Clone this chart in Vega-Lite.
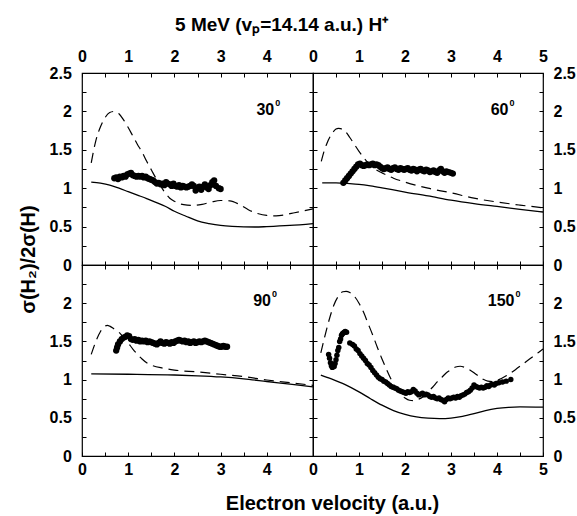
{
  "$schema": "https://vega.github.io/schema/vega-lite/v6.json",
  "background": "white",
  "padding": {"left": 17, "top": 15, "right": 2, "bottom": 2},
  "autosize": {"type": "pad"},
  "title": {"text": "5 MeV (vₚ=14.14 a.u.) H⁺", "font": "Liberation Sans", "fontSize": 19, "fontWeight": "bold", "color": "black", "anchor": "middle", "dx": -15, "offset": 13},
  "data": {"values": [
    {"p":"30","s":"solid","x":0.2,"y":1.08},{"p":"30","s":"solid","x":0.4,"y":1.065},{"p":"30","s":"solid","x":0.6,"y":1.04},{"p":"30","s":"solid","x":0.8,"y":1.0},{"p":"30","s":"solid","x":1.0,"y":0.955},{"p":"30","s":"solid","x":1.2,"y":0.91},{"p":"30","s":"solid","x":1.4,"y":0.865},{"p":"30","s":"solid","x":1.6,"y":0.815},{"p":"30","s":"solid","x":1.8,"y":0.765},{"p":"30","s":"solid","x":2.0,"y":0.7},{"p":"30","s":"solid","x":2.25,"y":0.635},{"p":"30","s":"solid","x":2.5,"y":0.575},{"p":"30","s":"solid","x":2.75,"y":0.54},{"p":"30","s":"solid","x":3.0,"y":0.515},{"p":"30","s":"solid","x":3.25,"y":0.502},{"p":"30","s":"solid","x":3.5,"y":0.496},{"p":"30","s":"solid","x":3.75,"y":0.495},{"p":"30","s":"solid","x":4.0,"y":0.5},{"p":"30","s":"solid","x":4.5,"y":0.515},{"p":"30","s":"solid","x":5.0,"y":0.54},
    {"p":"30","s":"dash","x":0.2,"y":1.33},{"p":"30","s":"dash","x":0.3,"y":1.62},{"p":"30","s":"dash","x":0.4,"y":1.8},{"p":"30","s":"dash","x":0.5,"y":1.92},{"p":"30","s":"dash","x":0.6,"y":1.985},{"p":"30","s":"dash","x":0.7,"y":2.0},{"p":"30","s":"dash","x":0.8,"y":1.97},{"p":"30","s":"dash","x":0.9,"y":1.89},{"p":"30","s":"dash","x":1.0,"y":1.79},{"p":"30","s":"dash","x":1.1,"y":1.68},{"p":"30","s":"dash","x":1.2,"y":1.57},{"p":"30","s":"dash","x":1.3,"y":1.47},{"p":"30","s":"dash","x":1.4,"y":1.35},{"p":"30","s":"dash","x":1.5,"y":1.24},{"p":"30","s":"dash","x":1.6,"y":1.13},{"p":"30","s":"dash","x":1.7,"y":1.03},{"p":"30","s":"dash","x":1.8,"y":0.94},{"p":"30","s":"dash","x":1.9,"y":0.87},{"p":"30","s":"dash","x":2.0,"y":0.83},{"p":"30","s":"dash","x":2.2,"y":0.785},{"p":"30","s":"dash","x":2.4,"y":0.775},{"p":"30","s":"dash","x":2.6,"y":0.79},{"p":"30","s":"dash","x":2.8,"y":0.82},{"p":"30","s":"dash","x":3.0,"y":0.84},{"p":"30","s":"dash","x":3.2,"y":0.835},{"p":"30","s":"dash","x":3.4,"y":0.79},{"p":"30","s":"dash","x":3.6,"y":0.72},{"p":"30","s":"dash","x":3.8,"y":0.67},{"p":"30","s":"dash","x":4.0,"y":0.645},{"p":"30","s":"dash","x":4.2,"y":0.64},{"p":"30","s":"dash","x":4.4,"y":0.655},{"p":"30","s":"dash","x":4.6,"y":0.68},{"p":"30","s":"dash","x":4.8,"y":0.705},{"p":"30","s":"dash","x":5.0,"y":0.73},
    {"p":"30","s":"pts","x":0.7,"y":1.13},{"p":"30","s":"pts","x":0.74,"y":1.14},{"p":"30","s":"pts","x":0.78,"y":1.12},{"p":"30","s":"pts","x":0.82,"y":1.15},{"p":"30","s":"pts","x":0.86,"y":1.14},{"p":"30","s":"pts","x":0.9,"y":1.16},{"p":"30","s":"pts","x":0.94,"y":1.15},{"p":"30","s":"pts","x":0.98,"y":1.18},{"p":"30","s":"pts","x":1.02,"y":1.19},{"p":"30","s":"pts","x":1.06,"y":1.2},{"p":"30","s":"pts","x":1.1,"y":1.17},{"p":"30","s":"pts","x":1.14,"y":1.16},{"p":"30","s":"pts","x":1.18,"y":1.15},{"p":"30","s":"pts","x":1.22,"y":1.16},{"p":"30","s":"pts","x":1.26,"y":1.15},{"p":"30","s":"pts","x":1.3,"y":1.16},{"p":"30","s":"pts","x":1.34,"y":1.14},{"p":"30","s":"pts","x":1.38,"y":1.15},{"p":"30","s":"pts","x":1.42,"y":1.13},{"p":"30","s":"pts","x":1.46,"y":1.12},{"p":"30","s":"pts","x":1.5,"y":1.11},{"p":"30","s":"pts","x":1.54,"y":1.1},{"p":"30","s":"pts","x":1.58,"y":1.08},{"p":"30","s":"pts","x":1.62,"y":1.06},{"p":"30","s":"pts","x":1.66,"y":1.07},{"p":"30","s":"pts","x":1.7,"y":1.05},{"p":"30","s":"pts","x":1.74,"y":1.06},{"p":"30","s":"pts","x":1.78,"y":1.04},{"p":"30","s":"pts","x":1.82,"y":1.08},{"p":"30","s":"pts","x":1.86,"y":1.06},{"p":"30","s":"pts","x":1.9,"y":1.05},{"p":"30","s":"pts","x":1.94,"y":1.03},{"p":"30","s":"pts","x":1.98,"y":1.06},{"p":"30","s":"pts","x":2.02,"y":1.03},{"p":"30","s":"pts","x":2.06,"y":1.02},{"p":"30","s":"pts","x":2.1,"y":1.04},{"p":"30","s":"pts","x":2.14,"y":1.01},{"p":"30","s":"pts","x":2.18,"y":1.03},{"p":"30","s":"pts","x":2.22,"y":1.02},{"p":"30","s":"pts","x":2.26,"y":1.01},{"p":"30","s":"pts","x":2.3,"y":1.02},{"p":"30","s":"pts","x":2.34,"y":1.03},{"p":"30","s":"pts","x":2.38,"y":1.05},{"p":"30","s":"pts","x":2.42,"y":1.03},{"p":"30","s":"pts","x":2.46,"y":0.97},{"p":"30","s":"pts","x":2.5,"y":1.0},{"p":"30","s":"pts","x":2.54,"y":1.02},{"p":"30","s":"pts","x":2.58,"y":0.98},{"p":"30","s":"pts","x":2.62,"y":1.02},{"p":"30","s":"pts","x":2.66,"y":1.05},{"p":"30","s":"pts","x":2.7,"y":1.01},{"p":"30","s":"pts","x":2.74,"y":0.99},{"p":"30","s":"pts","x":2.78,"y":1.04},{"p":"30","s":"pts","x":2.82,"y":1.08},{"p":"30","s":"pts","x":2.86,"y":1.1},{"p":"30","s":"pts","x":2.9,"y":1.03},{"p":"30","s":"pts","x":2.96,"y":1.0},{"p":"30","s":"pts","x":3.0,"y":0.99},
    {"p":"60","s":"solid","x":0.2,"y":1.07},{"p":"60","s":"solid","x":0.5,"y":1.07},{"p":"60","s":"solid","x":0.8,"y":1.06},{"p":"60","s":"solid","x":1.0,"y":1.05},{"p":"60","s":"solid","x":1.25,"y":1.03},{"p":"60","s":"solid","x":1.5,"y":1.005},{"p":"60","s":"solid","x":1.75,"y":0.978},{"p":"60","s":"solid","x":2.0,"y":0.95},{"p":"60","s":"solid","x":2.5,"y":0.9},{"p":"60","s":"solid","x":3.0,"y":0.845},{"p":"60","s":"solid","x":3.5,"y":0.8},{"p":"60","s":"solid","x":4.0,"y":0.762},{"p":"60","s":"solid","x":4.5,"y":0.725},{"p":"60","s":"solid","x":5.0,"y":0.69},
    {"p":"60","s":"dash","x":0.18,"y":1.35},{"p":"60","s":"dash","x":0.25,"y":1.5},{"p":"60","s":"dash","x":0.3,"y":1.58},{"p":"60","s":"dash","x":0.4,"y":1.7},{"p":"60","s":"dash","x":0.5,"y":1.77},{"p":"60","s":"dash","x":0.55,"y":1.78},{"p":"60","s":"dash","x":0.6,"y":1.775},{"p":"60","s":"dash","x":0.7,"y":1.74},{"p":"60","s":"dash","x":0.8,"y":1.66},{"p":"60","s":"dash","x":0.9,"y":1.57},{"p":"60","s":"dash","x":1.0,"y":1.48},{"p":"60","s":"dash","x":1.1,"y":1.4},{"p":"60","s":"dash","x":1.2,"y":1.33},{"p":"60","s":"dash","x":1.3,"y":1.27},{"p":"60","s":"dash","x":1.4,"y":1.23},{"p":"60","s":"dash","x":1.5,"y":1.2},{"p":"60","s":"dash","x":1.75,"y":1.13},{"p":"60","s":"dash","x":2.0,"y":1.08},{"p":"60","s":"dash","x":2.5,"y":1.0},{"p":"60","s":"dash","x":3.0,"y":0.94},{"p":"60","s":"dash","x":3.5,"y":0.87},{"p":"60","s":"dash","x":4.0,"y":0.82},{"p":"60","s":"dash","x":4.5,"y":0.78},{"p":"60","s":"dash","x":5.0,"y":0.745},
    {"p":"60","s":"pts","x":0.66,"y":1.07},{"p":"60","s":"pts","x":0.7,"y":1.1},{"p":"60","s":"pts","x":0.74,"y":1.13},{"p":"60","s":"pts","x":0.78,"y":1.16},{"p":"60","s":"pts","x":0.82,"y":1.19},{"p":"60","s":"pts","x":0.86,"y":1.22},{"p":"60","s":"pts","x":0.9,"y":1.25},{"p":"60","s":"pts","x":0.94,"y":1.28},{"p":"60","s":"pts","x":0.98,"y":1.31},{"p":"60","s":"pts","x":1.02,"y":1.32},{"p":"60","s":"pts","x":1.06,"y":1.3},{"p":"60","s":"pts","x":1.1,"y":1.29},{"p":"60","s":"pts","x":1.14,"y":1.3},{"p":"60","s":"pts","x":1.18,"y":1.31},{"p":"60","s":"pts","x":1.22,"y":1.3},{"p":"60","s":"pts","x":1.26,"y":1.31},{"p":"60","s":"pts","x":1.3,"y":1.32},{"p":"60","s":"pts","x":1.34,"y":1.3},{"p":"60","s":"pts","x":1.38,"y":1.31},{"p":"60","s":"pts","x":1.42,"y":1.3},{"p":"60","s":"pts","x":1.46,"y":1.28},{"p":"60","s":"pts","x":1.5,"y":1.26},{"p":"60","s":"pts","x":1.54,"y":1.25},{"p":"60","s":"pts","x":1.58,"y":1.26},{"p":"60","s":"pts","x":1.62,"y":1.27},{"p":"60","s":"pts","x":1.66,"y":1.25},{"p":"60","s":"pts","x":1.7,"y":1.24},{"p":"60","s":"pts","x":1.74,"y":1.26},{"p":"60","s":"pts","x":1.78,"y":1.27},{"p":"60","s":"pts","x":1.82,"y":1.25},{"p":"60","s":"pts","x":1.86,"y":1.24},{"p":"60","s":"pts","x":1.9,"y":1.26},{"p":"60","s":"pts","x":1.94,"y":1.25},{"p":"60","s":"pts","x":1.98,"y":1.24},{"p":"60","s":"pts","x":2.02,"y":1.25},{"p":"60","s":"pts","x":2.06,"y":1.26},{"p":"60","s":"pts","x":2.1,"y":1.24},{"p":"60","s":"pts","x":2.14,"y":1.23},{"p":"60","s":"pts","x":2.18,"y":1.25},{"p":"60","s":"pts","x":2.22,"y":1.24},{"p":"60","s":"pts","x":2.26,"y":1.22},{"p":"60","s":"pts","x":2.3,"y":1.24},{"p":"60","s":"pts","x":2.34,"y":1.25},{"p":"60","s":"pts","x":2.38,"y":1.23},{"p":"60","s":"pts","x":2.42,"y":1.22},{"p":"60","s":"pts","x":2.46,"y":1.24},{"p":"60","s":"pts","x":2.5,"y":1.23},{"p":"60","s":"pts","x":2.54,"y":1.21},{"p":"60","s":"pts","x":2.58,"y":1.22},{"p":"60","s":"pts","x":2.62,"y":1.23},{"p":"60","s":"pts","x":2.66,"y":1.21},{"p":"60","s":"pts","x":2.7,"y":1.2},{"p":"60","s":"pts","x":2.74,"y":1.23},{"p":"60","s":"pts","x":2.78,"y":1.25},{"p":"60","s":"pts","x":2.82,"y":1.22},{"p":"60","s":"pts","x":2.86,"y":1.2},{"p":"60","s":"pts","x":2.9,"y":1.22},{"p":"60","s":"pts","x":2.95,"y":1.21},{"p":"60","s":"pts","x":3.0,"y":1.2},{"p":"60","s":"pts","x":3.04,"y":1.19},
    {"p":"90","s":"solid","x":0.2,"y":1.075},{"p":"90","s":"solid","x":1.0,"y":1.07},{"p":"90","s":"solid","x":2.0,"y":1.06},{"p":"90","s":"solid","x":2.5,"y":1.05},{"p":"90","s":"solid","x":3.0,"y":1.035},{"p":"90","s":"solid","x":3.5,"y":1.01},{"p":"90","s":"solid","x":4.0,"y":0.975},{"p":"90","s":"solid","x":4.5,"y":0.94},{"p":"90","s":"solid","x":5.0,"y":0.905},
    {"p":"90","s":"dash","x":0.2,"y":1.33},{"p":"90","s":"dash","x":0.3,"y":1.5},{"p":"90","s":"dash","x":0.4,"y":1.63},{"p":"90","s":"dash","x":0.5,"y":1.7},{"p":"90","s":"dash","x":0.55,"y":1.71},{"p":"90","s":"dash","x":0.6,"y":1.7},{"p":"90","s":"dash","x":0.7,"y":1.66},{"p":"90","s":"dash","x":0.8,"y":1.62},{"p":"90","s":"dash","x":0.9,"y":1.55},{"p":"90","s":"dash","x":1.0,"y":1.48},{"p":"90","s":"dash","x":1.1,"y":1.4},{"p":"90","s":"dash","x":1.2,"y":1.33},{"p":"90","s":"dash","x":1.3,"y":1.27},{"p":"90","s":"dash","x":1.4,"y":1.22},{"p":"90","s":"dash","x":1.5,"y":1.19},{"p":"90","s":"dash","x":1.75,"y":1.15},{"p":"90","s":"dash","x":2.0,"y":1.125},{"p":"90","s":"dash","x":2.5,"y":1.1},{"p":"90","s":"dash","x":3.0,"y":1.07},{"p":"90","s":"dash","x":3.5,"y":1.04},{"p":"90","s":"dash","x":4.0,"y":0.995},{"p":"90","s":"dash","x":4.5,"y":0.96},{"p":"90","s":"dash","x":5.0,"y":0.925},
    {"p":"90","s":"pts","x":0.74,"y":1.38},{"p":"90","s":"pts","x":0.76,"y":1.42},{"p":"90","s":"pts","x":0.78,"y":1.46},{"p":"90","s":"pts","x":0.82,"y":1.5},{"p":"90","s":"pts","x":0.86,"y":1.53},{"p":"90","s":"pts","x":0.9,"y":1.55},{"p":"90","s":"pts","x":0.94,"y":1.56},{"p":"90","s":"pts","x":0.98,"y":1.58},{"p":"90","s":"pts","x":1.02,"y":1.57},{"p":"90","s":"pts","x":1.06,"y":1.53},{"p":"90","s":"pts","x":1.1,"y":1.52},{"p":"90","s":"pts","x":1.14,"y":1.53},{"p":"90","s":"pts","x":1.18,"y":1.51},{"p":"90","s":"pts","x":1.22,"y":1.52},{"p":"90","s":"pts","x":1.26,"y":1.5},{"p":"90","s":"pts","x":1.3,"y":1.51},{"p":"90","s":"pts","x":1.34,"y":1.5},{"p":"90","s":"pts","x":1.38,"y":1.51},{"p":"90","s":"pts","x":1.42,"y":1.49},{"p":"90","s":"pts","x":1.46,"y":1.5},{"p":"90","s":"pts","x":1.5,"y":1.49},{"p":"90","s":"pts","x":1.54,"y":1.48},{"p":"90","s":"pts","x":1.58,"y":1.47},{"p":"90","s":"pts","x":1.62,"y":1.46},{"p":"90","s":"pts","x":1.66,"y":1.48},{"p":"90","s":"pts","x":1.7,"y":1.5},{"p":"90","s":"pts","x":1.74,"y":1.48},{"p":"90","s":"pts","x":1.78,"y":1.47},{"p":"90","s":"pts","x":1.82,"y":1.49},{"p":"90","s":"pts","x":1.86,"y":1.48},{"p":"90","s":"pts","x":1.9,"y":1.47},{"p":"90","s":"pts","x":1.94,"y":1.49},{"p":"90","s":"pts","x":1.98,"y":1.48},{"p":"90","s":"pts","x":2.02,"y":1.5},{"p":"90","s":"pts","x":2.06,"y":1.51},{"p":"90","s":"pts","x":2.1,"y":1.52},{"p":"90","s":"pts","x":2.14,"y":1.51},{"p":"90","s":"pts","x":2.18,"y":1.5},{"p":"90","s":"pts","x":2.22,"y":1.51},{"p":"90","s":"pts","x":2.26,"y":1.49},{"p":"90","s":"pts","x":2.3,"y":1.5},{"p":"90","s":"pts","x":2.34,"y":1.48},{"p":"90","s":"pts","x":2.38,"y":1.49},{"p":"90","s":"pts","x":2.42,"y":1.5},{"p":"90","s":"pts","x":2.46,"y":1.48},{"p":"90","s":"pts","x":2.5,"y":1.49},{"p":"90","s":"pts","x":2.54,"y":1.5},{"p":"90","s":"pts","x":2.58,"y":1.49},{"p":"90","s":"pts","x":2.62,"y":1.5},{"p":"90","s":"pts","x":2.66,"y":1.51},{"p":"90","s":"pts","x":2.7,"y":1.5},{"p":"90","s":"pts","x":2.74,"y":1.49},{"p":"90","s":"pts","x":2.78,"y":1.48},{"p":"90","s":"pts","x":2.82,"y":1.47},{"p":"90","s":"pts","x":2.86,"y":1.46},{"p":"90","s":"pts","x":2.9,"y":1.45},{"p":"90","s":"pts","x":2.94,"y":1.44},{"p":"90","s":"pts","x":2.98,"y":1.43},{"p":"90","s":"pts","x":3.02,"y":1.43},{"p":"90","s":"pts","x":3.06,"y":1.44},{"p":"90","s":"pts","x":3.1,"y":1.43},{"p":"90","s":"pts","x":3.14,"y":1.43},
    {"p":"150","s":"solid","x":0.17,"y":1.06},{"p":"150","s":"solid","x":0.4,"y":1.01},{"p":"150","s":"solid","x":0.7,"y":0.935},{"p":"150","s":"solid","x":1.0,"y":0.84},{"p":"150","s":"solid","x":1.25,"y":0.75},{"p":"150","s":"solid","x":1.5,"y":0.665},{"p":"150","s":"solid","x":1.75,"y":0.595},{"p":"150","s":"solid","x":2.0,"y":0.545},{"p":"150","s":"solid","x":2.25,"y":0.512},{"p":"150","s":"solid","x":2.5,"y":0.496},{"p":"150","s":"solid","x":2.75,"y":0.49},{"p":"150","s":"solid","x":3.0,"y":0.497},{"p":"150","s":"solid","x":3.25,"y":0.52},{"p":"150","s":"solid","x":3.5,"y":0.555},{"p":"150","s":"solid","x":3.75,"y":0.595},{"p":"150","s":"solid","x":4.0,"y":0.622},{"p":"150","s":"solid","x":4.25,"y":0.637},{"p":"150","s":"solid","x":4.5,"y":0.643},{"p":"150","s":"solid","x":5.0,"y":0.64},
    {"p":"150","s":"dash","x":0.17,"y":1.35},{"p":"150","s":"dash","x":0.25,"y":1.55},{"p":"150","s":"dash","x":0.35,"y":1.78},{"p":"150","s":"dash","x":0.45,"y":1.97},{"p":"150","s":"dash","x":0.55,"y":2.09},{"p":"150","s":"dash","x":0.65,"y":2.15},{"p":"150","s":"dash","x":0.72,"y":2.155},{"p":"150","s":"dash","x":0.8,"y":2.14},{"p":"150","s":"dash","x":0.9,"y":2.09},{"p":"150","s":"dash","x":1.0,"y":2.0},{"p":"150","s":"dash","x":1.1,"y":1.88},{"p":"150","s":"dash","x":1.2,"y":1.73},{"p":"150","s":"dash","x":1.3,"y":1.58},{"p":"150","s":"dash","x":1.4,"y":1.42},{"p":"150","s":"dash","x":1.5,"y":1.27},{"p":"150","s":"dash","x":1.6,"y":1.13},{"p":"150","s":"dash","x":1.7,"y":1.0},{"p":"150","s":"dash","x":1.8,"y":0.89},{"p":"150","s":"dash","x":1.9,"y":0.81},{"p":"150","s":"dash","x":2.0,"y":0.76},{"p":"150","s":"dash","x":2.1,"y":0.73},{"p":"150","s":"dash","x":2.2,"y":0.725},{"p":"150","s":"dash","x":2.3,"y":0.745},{"p":"150","s":"dash","x":2.4,"y":0.78},{"p":"150","s":"dash","x":2.5,"y":0.84},{"p":"150","s":"dash","x":2.6,"y":0.9},{"p":"150","s":"dash","x":2.7,"y":0.97},{"p":"150","s":"dash","x":2.8,"y":1.03},{"p":"150","s":"dash","x":2.9,"y":1.09},{"p":"150","s":"dash","x":3.0,"y":1.13},{"p":"150","s":"dash","x":3.1,"y":1.165},{"p":"150","s":"dash","x":3.2,"y":1.175},{"p":"150","s":"dash","x":3.3,"y":1.16},{"p":"150","s":"dash","x":3.4,"y":1.13},{"p":"150","s":"dash","x":3.5,"y":1.09},{"p":"150","s":"dash","x":3.6,"y":1.045},{"p":"150","s":"dash","x":3.7,"y":1.005},{"p":"150","s":"dash","x":3.8,"y":0.98},{"p":"150","s":"dash","x":3.9,"y":0.975},{"p":"150","s":"dash","x":4.0,"y":0.99},{"p":"150","s":"dash","x":4.2,"y":1.05},{"p":"150","s":"dash","x":4.4,"y":1.13},{"p":"150","s":"dash","x":4.6,"y":1.22},{"p":"150","s":"dash","x":4.8,"y":1.31},{"p":"150","s":"dash","x":5.0,"y":1.4},
    {"p":"150","s":"pts","x":0.34,"y":1.33},{"p":"150","s":"pts","x":0.36,"y":1.28},{"p":"150","s":"pts","x":0.38,"y":1.22},{"p":"150","s":"pts","x":0.4,"y":1.18},{"p":"150","s":"pts","x":0.42,"y":1.16},{"p":"150","s":"pts","x":0.44,"y":1.19},{"p":"150","s":"pts","x":0.46,"y":1.17},{"p":"150","s":"pts","x":0.48,"y":1.21},{"p":"150","s":"pts","x":0.5,"y":1.26},{"p":"150","s":"pts","x":0.52,"y":1.32},{"p":"150","s":"pts","x":0.54,"y":1.38},{"p":"150","s":"pts","x":0.56,"y":1.42},{"p":"150","s":"pts","x":0.58,"y":1.5},{"p":"150","s":"pts","x":0.6,"y":1.53},{"p":"150","s":"pts","x":0.62,"y":1.58},{"p":"150","s":"pts","x":0.64,"y":1.6},{"p":"150","s":"pts","x":0.66,"y":1.61},{"p":"150","s":"pts","x":0.68,"y":1.62},{"p":"150","s":"pts","x":0.7,"y":1.63},{"p":"150","s":"pts","x":0.73,"y":1.62},{"p":"150","s":"pts","x":0.8,"y":1.48},{"p":"150","s":"pts","x":0.86,"y":1.46},{"p":"150","s":"pts","x":0.9,"y":1.44},{"p":"150","s":"pts","x":0.94,"y":1.4},{"p":"150","s":"pts","x":0.98,"y":1.38},{"p":"150","s":"pts","x":1.02,"y":1.34},{"p":"150","s":"pts","x":1.06,"y":1.31},{"p":"150","s":"pts","x":1.1,"y":1.28},{"p":"150","s":"pts","x":1.14,"y":1.25},{"p":"150","s":"pts","x":1.18,"y":1.21},{"p":"150","s":"pts","x":1.22,"y":1.19},{"p":"150","s":"pts","x":1.26,"y":1.16},{"p":"150","s":"pts","x":1.3,"y":1.12},{"p":"150","s":"pts","x":1.34,"y":1.09},{"p":"150","s":"pts","x":1.38,"y":1.06},{"p":"150","s":"pts","x":1.42,"y":1.03},{"p":"150","s":"pts","x":1.46,"y":1.01},{"p":"150","s":"pts","x":1.5,"y":1.0},{"p":"150","s":"pts","x":1.54,"y":0.98},{"p":"150","s":"pts","x":1.58,"y":0.97},{"p":"150","s":"pts","x":1.62,"y":0.95},{"p":"150","s":"pts","x":1.66,"y":0.93},{"p":"150","s":"pts","x":1.7,"y":0.91},{"p":"150","s":"pts","x":1.74,"y":0.9},{"p":"150","s":"pts","x":1.78,"y":0.89},{"p":"150","s":"pts","x":1.82,"y":0.88},{"p":"150","s":"pts","x":1.86,"y":0.86},{"p":"150","s":"pts","x":1.9,"y":0.85},{"p":"150","s":"pts","x":1.94,"y":0.84},{"p":"150","s":"pts","x":1.98,"y":0.83},{"p":"150","s":"pts","x":2.02,"y":0.82},{"p":"150","s":"pts","x":2.06,"y":0.84},{"p":"150","s":"pts","x":2.1,"y":0.83},{"p":"150","s":"pts","x":2.14,"y":0.84},{"p":"150","s":"pts","x":2.18,"y":0.87},{"p":"150","s":"pts","x":2.22,"y":0.85},{"p":"150","s":"pts","x":2.26,"y":0.82},{"p":"150","s":"pts","x":2.3,"y":0.8},{"p":"150","s":"pts","x":2.34,"y":0.81},{"p":"150","s":"pts","x":2.38,"y":0.82},{"p":"150","s":"pts","x":2.42,"y":0.8},{"p":"150","s":"pts","x":2.46,"y":0.81},{"p":"150","s":"pts","x":2.5,"y":0.8},{"p":"150","s":"pts","x":2.54,"y":0.78},{"p":"150","s":"pts","x":2.58,"y":0.77},{"p":"150","s":"pts","x":2.62,"y":0.78},{"p":"150","s":"pts","x":2.66,"y":0.76},{"p":"150","s":"pts","x":2.7,"y":0.75},{"p":"150","s":"pts","x":2.74,"y":0.76},{"p":"150","s":"pts","x":2.78,"y":0.74},{"p":"150","s":"pts","x":2.82,"y":0.73},{"p":"150","s":"pts","x":2.86,"y":0.71},{"p":"150","s":"pts","x":2.9,"y":0.74},{"p":"150","s":"pts","x":2.94,"y":0.76},{"p":"150","s":"pts","x":2.98,"y":0.75},{"p":"150","s":"pts","x":3.02,"y":0.76},{"p":"150","s":"pts","x":3.06,"y":0.77},{"p":"150","s":"pts","x":3.1,"y":0.76},{"p":"150","s":"pts","x":3.14,"y":0.78},{"p":"150","s":"pts","x":3.18,"y":0.77},{"p":"150","s":"pts","x":3.22,"y":0.79},{"p":"150","s":"pts","x":3.26,"y":0.8},{"p":"150","s":"pts","x":3.3,"y":0.81},{"p":"150","s":"pts","x":3.34,"y":0.83},{"p":"150","s":"pts","x":3.38,"y":0.84},{"p":"150","s":"pts","x":3.42,"y":0.86},{"p":"150","s":"pts","x":3.46,"y":0.89},{"p":"150","s":"pts","x":3.5,"y":0.93},{"p":"150","s":"pts","x":3.54,"y":0.91},{"p":"150","s":"pts","x":3.58,"y":0.9},{"p":"150","s":"pts","x":3.62,"y":0.89},{"p":"150","s":"pts","x":3.66,"y":0.9},{"p":"150","s":"pts","x":3.7,"y":0.89},{"p":"150","s":"pts","x":3.74,"y":0.9},{"p":"150","s":"pts","x":3.78,"y":0.92},{"p":"150","s":"pts","x":3.82,"y":0.91},{"p":"150","s":"pts","x":3.86,"y":0.93},{"p":"150","s":"pts","x":3.9,"y":0.94},{"p":"150","s":"pts","x":3.94,"y":0.93},{"p":"150","s":"pts","x":3.98,"y":0.95},{"p":"150","s":"pts","x":4.04,"y":0.96},{"p":"150","s":"pts","x":4.12,"y":0.97},{"p":"150","s":"pts","x":4.2,"y":0.98},{"p":"150","s":"pts","x":4.3,"y":1.0},
    {"p":"30","s":"lab","x":4.16,"y":1.95,"t":"30","sup":"0"},
    {"p":"60","s":"lab","x":4.25,"y":1.95,"t":"60","sup":"0"},
    {"p":"90","s":"lab","x":4.09,"y":1.96,"t":"90","sup":"0"},
    {"p":"150","s":"lab","x":4.38,"y":1.96,"t":"150","sup":"0"}
  ]},
  "columns": 2,
  "spacing": 0,
  "bounds": "flush",
  "concat": [
    {
      "width": 231, "height": 192,
      "transform": [{"filter": "datum.p == '30'"}],
      "layer": [
        {"transform": [{"filter": "datum.s == 'solid'"}], "mark": {"type": "line", "color": "black", "strokeWidth": 1.3, "interpolate": "monotone"},
         "encoding": {
           "x": {"field": "x", "type": "quantitative", "scale": {"domain": [0, 5], "nice": false, "zero": false}, "axis": {"orient": "top", "values": [0,0.5,1,1.5,2,2.5,3,3.5,4,4.5,5], "labelExpr": "datum.value % 1 == 0 && datum.value < 4.5 ? '' + datum.value : ''", "labelPadding": 12.6, "title": null}},
           "y": {"field": "y", "type": "quantitative", "scale": {"domain": [0, 2.5], "nice": false, "zero": false}, "axis": {"orient": "left", "values": [0,0.25,0.5,0.75,1,1.25,1.5,1.75,2,2.25,2.5], "labelExpr": "datum.value % 0.5 == 0 ? '' + datum.value : ''", "labelPadding": 14.7, "title": "σ(H₂)/2σ(H)", "titleFontSize": 20, "titleX": -54, "titleY": 186, "titleAngle": -90, "titleAlign": "center", "titleBaseline": "middle"}}
         }},
        {"transform": [{"filter": "datum.s == 'dash'"}], "mark": {"type": "line", "color": "black", "strokeWidth": 1.2, "strokeDash": [10, 6], "interpolate": "monotone"},
         "encoding": {
           "x": {"field": "x", "type": "quantitative", "scale": {"domain": [0, 5], "nice": false, "zero": false}, "axis": {"orient": "bottom", "values": [0,0.5,1,1.5,2,2.5,3,3.5,4,4.5,5], "labels": false, "title": null}},
           "y": {"field": "y", "type": "quantitative", "scale": {"domain": [0, 2.5], "nice": false, "zero": false}, "axis": {"orient": "right", "values": [0,0.25,0.5,0.75,1,1.25,1.5,1.75,2,2.25,2.5], "labels": false, "title": null}}
         }},
        {"transform": [{"filter": "datum.s == 'pts'"}], "mark": {"type": "circle", "color": "black", "opacity": 1, "size": 40},
         "encoding": {"x": {"field": "x", "type": "quantitative", "axis": null}, "y": {"field": "y", "type": "quantitative", "axis": null}}},
        {"transform": [{"filter": "datum.s == 'lab'"}], "mark": {"type": "text", "align": "right", "baseline": "alphabetic", "font": "Liberation Sans", "fontSize": 16, "fontWeight": "bold", "color": "black"},
         "encoding": {"x": {"field": "x", "type": "quantitative", "axis": null}, "y": {"field": "y", "type": "quantitative", "axis": null}, "text": {"field": "t"}}},
        {"transform": [{"filter": "datum.s == 'lab'"}], "mark": {"type": "text", "align": "left", "baseline": "alphabetic", "dx": 1, "dy": -9, "font": "Liberation Sans", "fontSize": 9, "fontWeight": "bold", "color": "black"},
         "encoding": {"x": {"field": "x", "type": "quantitative", "axis": null}, "y": {"field": "y", "type": "quantitative", "axis": null}, "text": {"field": "sup"}}}
      ],
      "resolve": {"axis": {"x": "independent", "y": "independent"}}
    },
    {
      "width": 230, "height": 192,
      "transform": [{"filter": "datum.p == '60'"}],
      "layer": [
        {"transform": [{"filter": "datum.s == 'solid'"}], "mark": {"type": "line", "color": "black", "strokeWidth": 1.3, "interpolate": "monotone"},
         "encoding": {
           "x": {"field": "x", "type": "quantitative", "scale": {"domain": [0, 5], "nice": false, "zero": false}, "axis": {"orient": "top", "values": [0,0.5,1,1.5,2,2.5,3,3.5,4,4.5,5], "labelExpr": "datum.value % 1 == 0 ? '' + datum.value : ''", "labelPadding": 12.6, "title": null}},
           "y": {"field": "y", "type": "quantitative", "scale": {"domain": [0, 2.5], "nice": false, "zero": false}, "axis": {"orient": "left", "values": [0,0.25,0.5,0.75,1,1.25,1.5,1.75,2,2.25,2.5], "labels": false, "title": null}}
         }},
        {"transform": [{"filter": "datum.s == 'dash'"}], "mark": {"type": "line", "color": "black", "strokeWidth": 1.2, "strokeDash": [10, 6], "interpolate": "monotone"},
         "encoding": {
           "x": {"field": "x", "type": "quantitative", "scale": {"domain": [0, 5], "nice": false, "zero": false}, "axis": {"orient": "bottom", "values": [0,0.5,1,1.5,2,2.5,3,3.5,4,4.5,5], "labels": false, "title": null}},
           "y": {"field": "y", "type": "quantitative", "scale": {"domain": [0, 2.5], "nice": false, "zero": false}, "axis": {"orient": "right", "values": [0,0.25,0.5,0.75,1,1.25,1.5,1.75,2,2.25,2.5], "labelExpr": "datum.value % 0.5 == 0 ? '' + datum.value : ''", "labelPadding": 14, "title": null}}
         }},
        {"transform": [{"filter": "datum.s == 'pts'"}], "mark": {"type": "circle", "color": "black", "opacity": 1, "size": 40},
         "encoding": {"x": {"field": "x", "type": "quantitative", "axis": null}, "y": {"field": "y", "type": "quantitative", "axis": null}}},
        {"transform": [{"filter": "datum.s == 'lab'"}], "mark": {"type": "text", "align": "right", "baseline": "alphabetic", "font": "Liberation Sans", "fontSize": 16, "fontWeight": "bold", "color": "black"},
         "encoding": {"x": {"field": "x", "type": "quantitative", "axis": null}, "y": {"field": "y", "type": "quantitative", "axis": null}, "text": {"field": "t"}}},
        {"transform": [{"filter": "datum.s == 'lab'"}], "mark": {"type": "text", "align": "left", "baseline": "alphabetic", "dx": 1, "dy": -9, "font": "Liberation Sans", "fontSize": 9, "fontWeight": "bold", "color": "black"},
         "encoding": {"x": {"field": "x", "type": "quantitative", "axis": null}, "y": {"field": "y", "type": "quantitative", "axis": null}, "text": {"field": "sup"}}}
      ],
      "resolve": {"axis": {"x": "independent", "y": "independent"}}
    },
    {
      "width": 231, "height": 191,
      "transform": [{"filter": "datum.p == '90'"}],
      "layer": [
        {"transform": [{"filter": "datum.s == 'solid'"}], "mark": {"type": "line", "color": "black", "strokeWidth": 1.3, "interpolate": "monotone"},
         "encoding": {
           "x": {"field": "x", "type": "quantitative", "scale": {"domain": [0, 5], "nice": false, "zero": false}, "axis": {"orient": "top", "values": [0,0.5,1,1.5,2,2.5,3,3.5,4,4.5,5], "labels": false, "title": null}},
           "y": {"field": "y", "type": "quantitative", "scale": {"domain": [0, 2.5], "nice": false, "zero": false}, "axis": {"orient": "left", "values": [0,0.25,0.5,0.75,1,1.25,1.5,1.75,2,2.25,2.5], "labelExpr": "datum.value % 0.5 == 0 && datum.value < 2.25 ? '' + datum.value : ''", "labelPadding": 14.7, "title": null}}
         }},
        {"transform": [{"filter": "datum.s == 'dash'"}], "mark": {"type": "line", "color": "black", "strokeWidth": 1.2, "strokeDash": [10, 6], "interpolate": "monotone"},
         "encoding": {
           "x": {"field": "x", "type": "quantitative", "scale": {"domain": [0, 5], "nice": false, "zero": false}, "axis": {"orient": "bottom", "values": [0,0.5,1,1.5,2,2.5,3,3.5,4,4.5,5], "labelExpr": "datum.value % 1 == 0 && datum.value < 4.5 ? '' + datum.value : ''", "labelPadding": 9, "title": "Electron velocity (a.u.)", "titleFontSize": 20, "titleX": 250, "titleY": 53.5, "titleAlign": "center", "titleBaseline": "alphabetic", "titleAngle": 0}},
           "y": {"field": "y", "type": "quantitative", "scale": {"domain": [0, 2.5], "nice": false, "zero": false}, "axis": {"orient": "right", "values": [0,0.25,0.5,0.75,1,1.25,1.5,1.75,2,2.25,2.5], "labels": false, "title": null}}
         }},
        {"transform": [{"filter": "datum.s == 'pts'"}], "mark": {"type": "circle", "color": "black", "opacity": 1, "size": 40},
         "encoding": {"x": {"field": "x", "type": "quantitative", "axis": null}, "y": {"field": "y", "type": "quantitative", "axis": null}}},
        {"transform": [{"filter": "datum.s == 'lab'"}], "mark": {"type": "text", "align": "right", "baseline": "alphabetic", "font": "Liberation Sans", "fontSize": 16, "fontWeight": "bold", "color": "black"},
         "encoding": {"x": {"field": "x", "type": "quantitative", "axis": null}, "y": {"field": "y", "type": "quantitative", "axis": null}, "text": {"field": "t"}}},
        {"transform": [{"filter": "datum.s == 'lab'"}], "mark": {"type": "text", "align": "left", "baseline": "alphabetic", "dx": 1, "dy": -9, "font": "Liberation Sans", "fontSize": 9, "fontWeight": "bold", "color": "black"},
         "encoding": {"x": {"field": "x", "type": "quantitative", "axis": null}, "y": {"field": "y", "type": "quantitative", "axis": null}, "text": {"field": "sup"}}}
      ],
      "resolve": {"axis": {"x": "independent", "y": "independent"}}
    },
    {
      "width": 230, "height": 191,
      "transform": [{"filter": "datum.p == '150'"}],
      "layer": [
        {"transform": [{"filter": "datum.s == 'solid'"}], "mark": {"type": "line", "color": "black", "strokeWidth": 1.3, "interpolate": "monotone"},
         "encoding": {
           "x": {"field": "x", "type": "quantitative", "scale": {"domain": [0, 5], "nice": false, "zero": false}, "axis": {"orient": "top", "values": [0,0.5,1,1.5,2,2.5,3,3.5,4,4.5,5], "labels": false, "title": null}},
           "y": {"field": "y", "type": "quantitative", "scale": {"domain": [0, 2.5], "nice": false, "zero": false}, "axis": {"orient": "left", "values": [0,0.25,0.5,0.75,1,1.25,1.5,1.75,2,2.25,2.5], "labels": false, "title": null}}
         }},
        {"transform": [{"filter": "datum.s == 'dash'"}], "mark": {"type": "line", "color": "black", "strokeWidth": 1.2, "strokeDash": [10, 6], "interpolate": "monotone"},
         "encoding": {
           "x": {"field": "x", "type": "quantitative", "scale": {"domain": [0, 5], "nice": false, "zero": false}, "axis": {"orient": "bottom", "values": [0,0.5,1,1.5,2,2.5,3,3.5,4,4.5,5], "labelExpr": "datum.value % 1 == 0 ? '' + datum.value : ''", "labelPadding": 9, "title": null}},
           "y": {"field": "y", "type": "quantitative", "scale": {"domain": [0, 2.5], "nice": false, "zero": false}, "axis": {"orient": "right", "values": [0,0.25,0.5,0.75,1,1.25,1.5,1.75,2,2.25,2.5], "labelExpr": "datum.value % 0.5 == 0 && datum.value < 2.25 ? '' + datum.value : ''", "labelPadding": 14, "title": null}}
         }},
        {"transform": [{"filter": "datum.s == 'pts'"}], "mark": {"type": "circle", "color": "black", "opacity": 1, "size": 30},
         "encoding": {"x": {"field": "x", "type": "quantitative", "axis": null}, "y": {"field": "y", "type": "quantitative", "axis": null}}},
        {"transform": [{"filter": "datum.s == 'lab'"}], "mark": {"type": "text", "align": "right", "baseline": "alphabetic", "font": "Liberation Sans", "fontSize": 16, "fontWeight": "bold", "color": "black"},
         "encoding": {"x": {"field": "x", "type": "quantitative", "axis": null}, "y": {"field": "y", "type": "quantitative", "axis": null}, "text": {"field": "t"}}},
        {"transform": [{"filter": "datum.s == 'lab'"}], "mark": {"type": "text", "align": "left", "baseline": "alphabetic", "dx": 1, "dy": -9, "font": "Liberation Sans", "fontSize": 9, "fontWeight": "bold", "color": "black"},
         "encoding": {"x": {"field": "x", "type": "quantitative", "axis": null}, "y": {"field": "y", "type": "quantitative", "axis": null}, "text": {"field": "sup"}}}
      ],
      "resolve": {"axis": {"x": "independent", "y": "independent"}}
    }
  ],
  "config": {
    "view": {"stroke": "black", "strokeWidth": 1.2},
    "axis": {"domain": false, "grid": false, "ticks": true, "tickSize": -4, "tickColor": "black", "tickWidth": 1, "labelFont": "Liberation Sans", "labelFontSize": 16, "labelFontWeight": "bold", "labelColor": "black", "labelFlush": false, "labelOverlap": false, "titleFont": "Liberation Sans", "titleFontSize": 18, "titleFontWeight": "bold", "titleColor": "black"}
  }
}
